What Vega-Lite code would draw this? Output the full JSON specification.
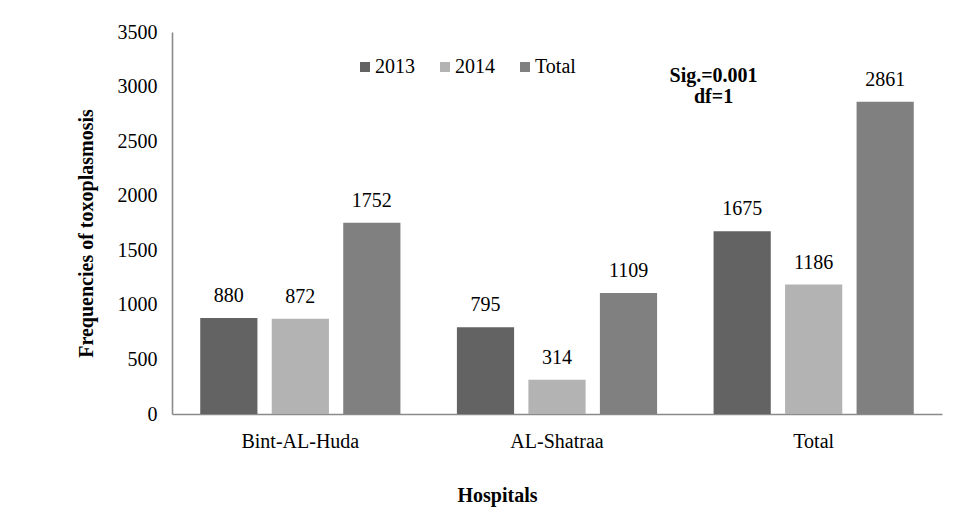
{
  "$schema": "https://vega.github.io/schema/vega-lite/v6.json",
  "width": 770,
  "height": 382,
  "autosize": "none",
  "padding": {"left": 172, "top": 32, "right": 21, "bottom": 114},
  "background": "white",
  "config": {
    "font": "Liberation Serif",
    "view": {"stroke": null},
    "axis": {"labelFont": "Liberation Serif", "titleFont": "Liberation Serif", "labelColor": "#000", "titleColor": "#000", "grid": false, "ticks": false, "tickSize": 0, "domainColor": "#8a8a8a", "domainWidth": 1.6, "labelFontSize": 20, "titleFontSize": 20, "titleFontWeight": "bold"}
  },
  "data": {
    "values": [
      {"hospital": "Bint-AL-Huda", "year": "2013", "value": 880},
      {"hospital": "Bint-AL-Huda", "year": "2014", "value": 872},
      {"hospital": "Bint-AL-Huda", "year": "Total", "value": 1752},
      {"hospital": "AL-Shatraa", "year": "2013", "value": 795},
      {"hospital": "AL-Shatraa", "year": "2014", "value": 314},
      {"hospital": "AL-Shatraa", "year": "Total", "value": 1109},
      {"hospital": "Total", "year": "2013", "value": 1675},
      {"hospital": "Total", "year": "2014", "value": 1186},
      {"hospital": "Total", "year": "Total", "value": 2861}
    ]
  },
  "layer": [
    {
      "mark": {"type": "bar"},
      "encoding": {
        "x": {"field": "hospital", "type": "nominal",
              "scale": {"domain": ["Bint-AL-Huda", "AL-Shatraa", "Total"], "paddingInner": 0.22, "paddingOuter": 0.11},
              "axis": {"title": "Hospitals", "labelAngle": 0, "labelPadding": 17, "titleX": 325, "titleY": 71, "titleBaseline": "top"}},
        "xOffset": {"field": "year", "type": "nominal", "scale": {"domain": ["2013", "2014", "Total"], "paddingInner": 0.2, "paddingOuter": 0}},
        "y": {"field": "value", "type": "quantitative", "scale": {"domain": [0, 3500], "nice": false},
              "axis": {"title": "Frequencies of toxoplasmosis", "format": "d", "values": [0, 500, 1000, 1500, 2000, 2500, 3000, 3500], "labelPadding": 15, "titleAngle": -90, "titleX": -80, "titleY": 201, "titleAlign": "center", "titleBaseline": "alphabetic"}},
        "color": {"field": "year", "type": "nominal",
                  "scale": {"domain": ["2013", "2014", "Total"], "range": ["#636363", "#b3b3b3", "#808080"]},
                  "legend": {"title": null, "orient": "none", "legendX": 183, "legendY": 25, "direction": "horizontal", "symbolType": "square", "symbolSize": 100, "symbolStrokeWidth": 0, "labelFont": "Liberation Serif", "labelFontSize": 20, "labelColor": "#000", "labelOffset": 0, "columnPadding": 20, "labelBaseline": "middle"}}
      }
    },
    {
      "mark": {"type": "text", "baseline": "alphabetic", "dy": -16, "fontSize": 20, "font": "Liberation Serif", "color": "#000"},
      "encoding": {
        "x": {"field": "hospital", "type": "nominal"},
        "xOffset": {"field": "year", "type": "nominal"},
        "y": {"field": "value", "type": "quantitative"},
        "text": {"field": "value", "type": "quantitative", "format": "d"}
      }
    },
    {
      "data": {"values": [
        {"hospital": "Total", "note": "Sig.=0.001", "pos": 3042},
        {"hospital": "Total", "note": "df=1", "pos": 2850}
      ]},
      "mark": {"type": "text", "baseline": "alphabetic", "align": "center", "fontSize": 20, "fontWeight": "bold", "font": "Liberation Serif", "color": "#000"},
      "encoding": {
        "x": {"field": "hospital", "type": "nominal", "bandPosition": 0},
        "y": {"field": "pos", "type": "quantitative"},
        "text": {"field": "note", "type": "nominal"}
      }
    }
  ]
}
